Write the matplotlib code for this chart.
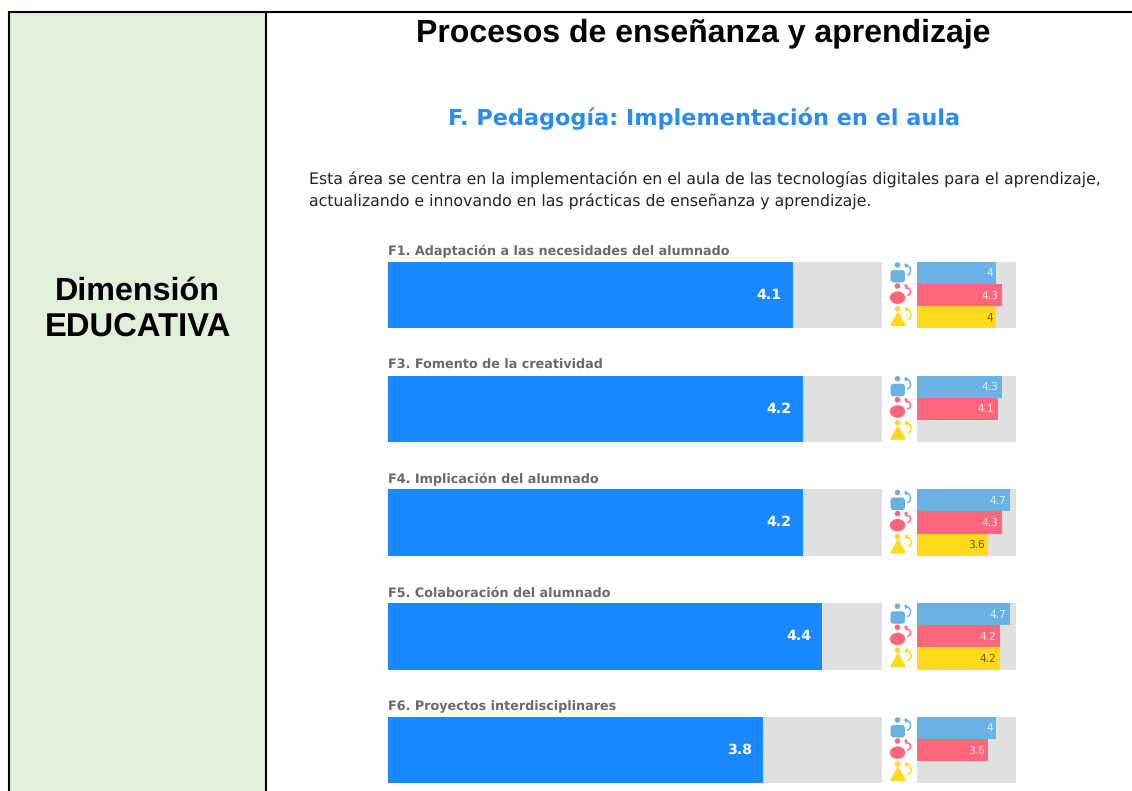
import numpy as np
import matplotlib
matplotlib.use("Agg")
import matplotlib.pyplot as plt
from matplotlib.patches import Circle, Ellipse, FancyBboxPatch, Polygon, Arc, Rectangle

plt.rcParams["text.hinting"] = "none"

categories = ["F1. Adaptación a las necesidades del alumnado", "F3. Fomento de la creatividad",
              "F4. Implicación del alumnado", "F5. Colaboración del alumnado",
              "F6. Proyectos interdisciplinares"]
overall = [4.1, 4.2, 4.2, 4.4, 3.8]
group_blue = [4, 4.3, 4.7, 4.7, 4]
group_red = [4.3, 4.1, 4.3, 4.2, 3.6]
group_yellow = [4, None, 3.6, 4.2, None]
scale_max = 5

W, H = 1132, 791
BLUE, GREY = "#1A88FF", "#E0E0E0"
C_B, C_R, C_Y = "#6AB2E3", "#FF667C", "#FFD91C"
PITCH, ROW_H, FIRST = 113.75, 66.5, 295.0

fig = plt.figure(figsize=(W / 100, H / 100), dpi=100, facecolor="white")

def px_axes(l, r, t, b, **kw):
    ax = fig.add_axes([l / W, 1 - b / H, (r - l) / W, (b - t) / H], **kw)
    return ax

# page layer in pixels
bg = px_axes(0, W, 0, H)
bg.set_xlim(0, W); bg.set_ylim(H, 0); bg.axis("off")
bg.add_patch(Rectangle((9, 12), 256.5, H, fc="#E2EFDA", ec="none"))
bg.plot([9, 9], [11, H], color="black", lw=1.5, solid_capstyle="butt")
bg.plot([265.5, 265.5], [11, H], color="black", lw=1.5, solid_capstyle="butt")
bg.plot([8, W], [12, 12], color="black", lw=1.5, solid_capstyle="butt")

bg.text(137.5, 291, "Dimensión", ha="center", va="center", family="Liberation Sans",
        weight="bold", fontsize=23.2, color="black")
bg.text(138, 327, "EDUCATIVA", ha="center", va="center", family="Liberation Sans",
        weight="bold", fontsize=23.6, color="black")
bg.text(703.5, 33, "Procesos de enseñanza y aprendizaje", ha="center", va="center",
        family="Liberation Sans", weight="bold", fontsize=23.0, color="black")
bg.text(704, 119, "F. Pedagogía: Implementación en el aula", ha="center", va="center",
        family="DejaVu Sans", weight="bold", fontsize=16.1, color="#2A8CF0")
bg.text(309, 179.5, "Esta área se centra en la implementación en el aula de las tecnologías digitales para el aprendizaje,",
        ha="left", va="center", family="DejaVu Sans", fontsize=11.35, color="#222222")
bg.text(309, 201.5, "actualizando e innovando en las prácticas de enseñanza y aprendizaje.",
        ha="left", va="center", family="DejaVu Sans", fontsize=11.35, color="#222222")

def person(row, head_dy, small_x, arc_h, color):
    bg.add_patch(Circle((897.5, row + head_dy), 2.8, fc=color, ec="none"))
    bg.add_patch(Circle((small_x, row + head_dy), 1.6, fc=color, ec="none"))
    bg.add_patch(Arc((small_x + 1.5, row + head_dy + 5.5), 6, arc_h, theta1=-125, theta2=95, ec=color, lw=1.1))

for i, label in enumerate(categories):
    row = FIRST + i * PITCH
    bg.text(388.5, row - 43.5, label, ha="left", va="center", family="DejaVu Sans",
            weight="bold", fontsize=9.2, color="#6A6A6A")
    # blue icon
    person(row, -30, 906, 9, C_B)
    bg.add_patch(FancyBboxPatch((890.5, row - 25), 14.5, 12.5, boxstyle="round,pad=0,rounding_size=3.5",
                                fc=C_B, ec="none"))
    # red icon
    person(row, -9, 906, 7, C_R)
    bg.add_patch(Ellipse((897.5, row + 2.7), 15.5, 12.5, fc=C_R, ec="none"))
    # yellow icon
    person(row, 14, 906.5, 9, C_Y)
    bg.add_patch(Polygon([(891.5, row + 30), (904.5, row + 30), (898, row + 18.5)], closed=True, fc=C_Y, ec=C_Y,
                         lw=1.6, joinstyle="round"))

# main bars: value axis 0..5
top = FIRST - PITCH / 2
ylim_bottom = (H - FIRST) / PITCH
ax = px_axes(388, 881.5, top, H)
ax.patch.set_alpha(0)
ax.set_xlim(0, scale_max); ax.set_ylim(ylim_bottom, -0.5); ax.axis("off")
y = np.arange(len(categories))
h = ROW_H / PITCH
ax.barh(y, [scale_max] * len(y), height=h, color=GREY, linewidth=0)
ax.barh(y, overall, height=h, color=BLUE, linewidth=0)
for yi, v in zip(y, overall):
    ax.annotate(f"{v:g}", (v, yi), xytext=(-11, 0), textcoords="offset pixels", ha="right", va="center",
                family="DejaVu Sans", weight="bold", fontsize=10.2, color="white", clip_on=False)

# group bars
ax2 = px_axes(917, 1016, top, H)
ax2.patch.set_alpha(0)
ax2.set_xlim(0, scale_max); ax2.set_ylim(ylim_bottom, -0.5); ax2.axis("off")
ax2.barh(y, [scale_max] * len(y), height=h, color=GREY, linewidth=0)
sub = h / 3
groups = [(group_blue, C_B, "#DDEEFA", -1), (group_red, C_R, "#FFDDE2", 0), (group_yellow, C_Y, "#6E6420", 1)]
for vals, col, tc, k in groups:
    for yi, v in zip(y, vals):
        if v is None:
            continue
        ax2.barh(yi + k * sub, v, height=sub, color=col, linewidth=0)
        ax2.annotate(f"{v:g}", (v, yi + k * sub), xytext=(-3.5, -0.5), textcoords="offset pixels", ha="right",
                     va="center", family="DejaVu Sans", fontsize=7.6, color=tc)

fig.savefig("out.png", dpi=100)
